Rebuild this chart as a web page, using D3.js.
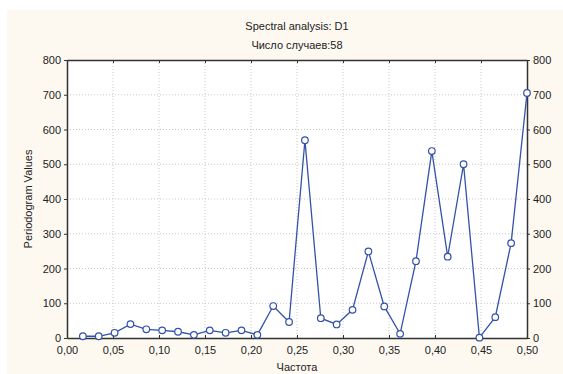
<!DOCTYPE html>
<html>
<head>
<meta charset="utf-8">
<script src="https://cdn.jsdelivr.net/npm/d3@7"></script>
<style>
  body { margin: 0; background: #fff; }
  svg { display: block; font-family: "Liberation Sans", Arial, sans-serif; }
  .grid line { stroke: #c8c8c8; stroke-dasharray: 1,2; }
  .axis path, .axis line { stroke: #333; }
  .axis text { font-size: 11px; fill: #222; }
</style>
</head>
<body>
<div id="chart"></div>
<script>
// periodogram values for frequencies k/58, k = 1..29
const caseCount = 58;
const harmonics = [1, 2, 3, 4, 5, 6, 7, 8, 9, 10, 11, 12, 13, 14, 15, 16, 17, 18, 19, 20, 21, 22, 23, 24, 25, 26, 27, 28, 29];
const periodogram = [5, 5, 15, 40, 25, 22, 18, 9, 22, 15, 22, 9, 92, 46, 569, 57, 39, 81, 249, 91, 12, 221, 538, 234, 500, 1, 60, 273, 705];
const xTicks = [0, 0.05, 0.10, 0.15, 0.20, 0.25, 0.30, 0.35, 0.40, 0.45, 0.50];
const yTicks = [0, 100, 200, 300, 400, 500, 600, 700, 800];

const data = harmonics.map((k, i) => ({ x: k / caseCount, y: periodogram[i] }));

const W = 563, H = 374;
const margin = { top: 60, right: 36, bottom: 36, left: 67 };
const width = 527 - margin.left;
const height = 338 - margin.top;

const svg = d3.select("#chart").append("svg")
  .attr("width", W)
  .attr("height", H);

// cream figure background
svg.append("rect")
  .attr("x", 7).attr("y", 10)
  .attr("width", W - 7).attr("height", H - 10)
  .attr("fill", "#fdf9f1");

const g = svg.append("g")
  .attr("transform", "translate(" + margin.left + "," + margin.top + ")");

g.append("rect")
  .attr("width", width).attr("height", height)
  .attr("fill", "#fff");

const xScale = d3.scaleLinear().domain([0, 0.5]).range([0, width]);
const yScale = d3.scaleLinear().domain([0, 800]).range([height, 0]);
const fmt = d => d3.format(".2f")(d).replace(".", ",");

// grid
g.append("g").attr("class", "grid")
  .selectAll("line.h").data(yTicks.slice(1, -1)).enter().append("line")
  .attr("x1", 0).attr("x2", width)
  .attr("y1", d => yScale(d)).attr("y2", d => yScale(d));
g.append("g").attr("class", "grid")
  .selectAll("line.v").data(xTicks.slice(1, -1)).enter().append("line")
  .attr("y1", 0).attr("y2", height)
  .attr("x1", d => xScale(d)).attr("x2", d => xScale(d));

// axes
g.append("g").attr("class", "axis")
  .attr("transform", "translate(0," + height + ")")
  .call(d3.axisBottom(xScale).tickValues(xTicks).tickFormat(fmt).tickSizeInner(-3).tickSizeOuter(0).tickPadding(8));

g.append("g").attr("class", "axis")
  .call(d3.axisTop(xScale).tickValues(xTicks).tickFormat("").tickSizeInner(-3).tickSizeOuter(0));

g.append("g").attr("class", "axis")
  .call(d3.axisLeft(yScale).tickValues(yTicks).tickSizeInner(3).tickSizeOuter(0).tickPadding(3));

g.append("g").attr("class", "axis")
  .attr("transform", "translate(" + width + ",0)")
  .call(d3.axisRight(yScale).tickValues(yTicks).tickSizeInner(3).tickSizeOuter(0).tickPadding(3));

g.selectAll(".axis path.domain").attr("stroke-width", 1.5);

// series
const line = d3.line()
  .x(d => xScale(d.x))
  .y(d => yScale(d.y));

g.append("path")
  .datum(data)
  .attr("fill", "none")
  .attr("stroke", "#3352a8")
  .attr("stroke-width", 1.3)
  .attr("d", line);

g.selectAll(".dot")
  .data(data)
  .enter()
  .append("circle")
  .attr("class", "dot")
  .attr("cx", d => xScale(d.x))
  .attr("cy", d => yScale(d.y))
  .attr("r", 3.3)
  .attr("fill", "#fff")
  .attr("stroke", "#3352a8")
  .attr("stroke-width", 1.2);

// titles
svg.append("text")
  .attr("x", 297).attr("y", 30)
  .attr("text-anchor", "middle")
  .style("font-size", "11px").attr("fill", "#222")
  .text("Spectral analysis: D1");

svg.append("text")
  .attr("x", 297).attr("y", 49)
  .attr("text-anchor", "middle")
  .style("font-size", "11px").attr("fill", "#222")
  .text("Число случаев:58");

svg.append("text")
  .attr("x", 297).attr("y", 371)
  .attr("text-anchor", "middle")
  .style("font-size", "11px").attr("fill", "#222")
  .text("Частота");

svg.append("text")
  .attr("transform", "translate(32,199) rotate(-90)")
  .attr("text-anchor", "middle")
  .style("font-size", "11px").attr("fill", "#222")
  .text("Periodogram Values");
</script>
</body>
</html>
